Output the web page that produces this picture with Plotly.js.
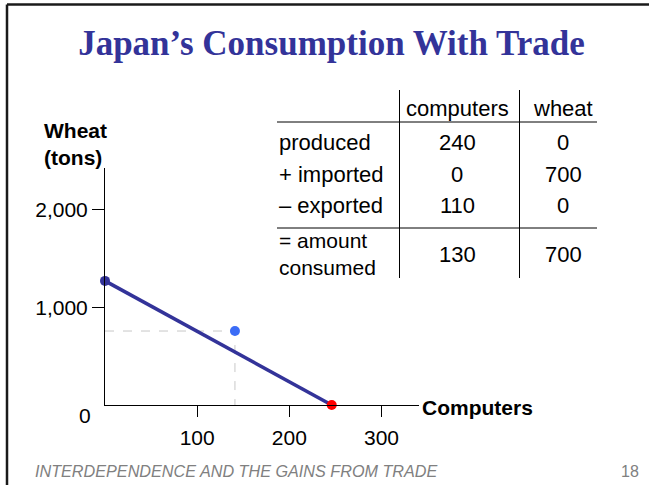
<!DOCTYPE html>
<html>
<head>
<meta charset="utf-8">
<script src="https://cdn.plot.ly/plotly-3.0.1.min.js"></script>
<style>html,body{margin:0;padding:0;background:#fff;}#chart{width:649px;height:485px;}</style>
</head>
<body>
<div id="chart"></div>
<script>
// ---- data ----
const ppfComputers = [0, 246];
const ppfWheat = [1270, 0];
const consumptionComputers = [141];
const consumptionWheat = [757];
const xTickVals = [100, 200, 300];
const xTickText = ['100', '200', '300'];
const yTickVals = [1000, 2000];
const yTickText = ['1,000', '2,000'];
const tableHeaders = ['computers', 'wheat'];
const rowLabels = ['produced', '+ imported', '– exported', '= amount<br>consumed'];
const computersCol = [240, 0, 110, 130];
const wheatCol = [0, 700, 0, 700];

// ---- layout geometry (pixels) ----
const W = 649, H = 485, ML = 105, MR = 230, MT = 168, MB = 80;
const PW = W - ML - MR, PH = H - MT - MB;
const px = x => (x - ML) / PW;
const py = y => (H - MB - y) / PH;

const SANS = 'Liberation Sans, Arial, sans-serif';
const NAVY = '#333399';

const traces = [
  { // guide lines to consumption point
    x: [0, consumptionComputers[0], consumptionComputers[0]],
    y: [consumptionWheat[0], consumptionWheat[0], 0],
    mode: 'lines', line: {color: '#c8c8c8', width: 1, dash: 'dash'},
    hoverinfo: 'skip', showlegend: false, cliponaxis: false
  },
  { // PPF
    x: ppfComputers, y: ppfWheat, mode: 'lines',
    line: {color: NAVY, width: 3.5}, showlegend: false, cliponaxis: false
  },
  { x: [ppfComputers[0]], y: [ppfWheat[0]], mode: 'markers',
    marker: {color: NAVY, size: 10}, showlegend: false, cliponaxis: false },
  { x: [ppfComputers[1]], y: [ppfWheat[1]], mode: 'markers',
    marker: {color: '#ff0000', size: 10}, showlegend: false, cliponaxis: false },
  { x: consumptionComputers, y: consumptionWheat, mode: 'markers',
    marker: {color: '#3b6cf6', size: 10}, showlegend: false, cliponaxis: false }
];

const annotations = [];
const shapes = [];
function ann(text, x, y, opts) {
  annotations.push(Object.assign({
    text: text, x: px(x), y: py(y), xref: 'paper', yref: 'paper',
    showarrow: false, xanchor: 'center', yanchor: 'middle',
    font: {family: SANS, size: 22, color: '#000'}
  }, opts || {}));
}
function seg(x0, y0, x1, y1, color, width) {
  shapes.push({type: 'line', xref: 'paper', yref: 'paper',
    x0: px(x0), y0: py(y0), x1: px(x1), y1: py(y1),
    line: {color: color, width: width}});
}

// slide frame (top and left edges)
seg(7, 4.5, W + 5, 4.5, '#1a1a1a', 2.5);
seg(7, 4.5, 7, H + 5, '#1a1a1a', 2.5);

// axis titles and origin label
ann('<b>Wheat<br>(tons)</b>', 42, 144, {xanchor: 'left', align: 'left', font: {family: SANS, size: 21, color: '#000'}});
ann('<b>Computers</b>', 420, 407, {xanchor: 'left', font: {family: SANS, size: 21, color: '#000'}});
ann('0', 85, 415, {font: {family: SANS, size: 21, color: '#000'}});

// table
const colX = [457, 563];
const rowY = [142, 174, 205, 254];
tableHeaders.forEach((h, i) => ann(h, colX[i], 108));
rowLabels.forEach((lab, r) => {
  const multi = lab.indexOf('<br>') >= 0;
  ann(lab, 277, rowY[r], multi
    ? {xanchor: 'left', align: 'left', font: {family: SANS, size: 21, color: '#000'}}
    : {xanchor: 'left'});
  ann(String(computersCol[r]), colX[0], rowY[r]);
  ann(String(wheatCol[r]), colX[1], rowY[r]);
});
seg(399.5, 90, 399.5, 278, '#000', 1);
seg(519.5, 90, 519.5, 278, '#000', 1);
seg(277, 122, 597, 122, '#000', 1);
seg(277, 228, 597, 228, '#000', 1);

// footer
ann('<i>INTERDEPENDENCE AND THE GAINS FROM TRADE</i>', 33, 471,
    {xanchor: 'left', font: {family: SANS, size: 16.2, color: '#808080'}});
ann('18', 630, 471, {font: {family: SANS, size: 16, color: '#808080'}});

const layout = {
  width: W, height: H,
  margin: {l: ML, r: MR, t: MT, b: MB, pad: 0},
  paper_bgcolor: '#fff', plot_bgcolor: '#fff',
  title: {
    text: '<b>Japan’s Consumption With Trade</b>',
    font: {family: 'Liberation Serif, Times New Roman, serif', size: 35, color: NAVY},
    x: 331.5 / W, xanchor: 'center', xref: 'container',
    y: 1 - 43 / H, yanchor: 'middle', yref: 'container'
  },
  xaxis: {
    range: [0, 340.7], showgrid: false, zeroline: false,
    showline: true, linecolor: '#000', linewidth: 1,
    tickmode: 'array', tickvals: xTickVals, ticktext: xTickText,
    ticks: 'outside', ticklen: 11, tickcolor: '#000', tickwidth: 1,
    ticklabelstandoff: 3,
    tickfont: {family: SANS, size: 21, color: '#000'}, fixedrange: true
  },
  yaxis: {
    range: [0, 2425], showgrid: false, zeroline: false,
    showline: true, linecolor: '#000', linewidth: 1,
    tickmode: 'array', tickvals: yTickVals, ticktext: yTickText,
    ticks: 'outside', ticklen: 12, tickcolor: '#000', tickwidth: 1,
    tickfont: {family: SANS, size: 21, color: '#000'}, fixedrange: true
  },
  shapes: shapes,
  annotations: annotations,
  showlegend: false
};

Plotly.newPlot('chart', traces, layout, {displayModeBar: false, staticPlot: true});
</script>
</body>
</html>
